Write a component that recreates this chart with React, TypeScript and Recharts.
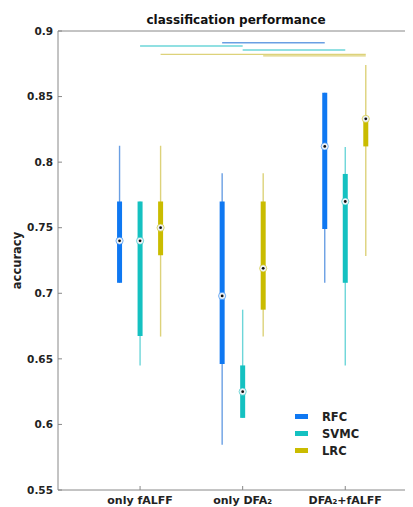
import { ComposedChart, ErrorBar, Legend, ReferenceLine, Scatter, XAxis, YAxis } from "recharts";

const FONT = "'DejaVu Sans', 'Liberation Sans', sans-serif";

const categories = ["only fALFF", "only DFA₂", "DFA₂+fALFF"];
const yTicks = [0.55, 0.6, 0.65, 0.7, 0.75, 0.8, 0.85, 0.9];

// five-number summaries per category (whisker low, q1, median, q3, whisker high)
const rfcLow = [0.708, 0.5845, 0.708];
const rfcQ1 = [0.708, 0.646, 0.749];
const rfcMedian = [0.74, 0.698, 0.812];
const rfcQ3 = [0.77, 0.77, 0.853];
const rfcHigh = [0.8125, 0.7915, 0.853];

const svmcLow = [0.645, 0.605, 0.645];
const svmcQ1 = [0.6675, 0.605, 0.708];
const svmcMedian = [0.74, 0.625, 0.77];
const svmcQ3 = [0.77, 0.645, 0.791];
const svmcHigh = [0.77, 0.6875, 0.8115];

const lrcLow = [0.667, 0.667, 0.7285];
const lrcQ1 = [0.729, 0.6875, 0.812];
const lrcMedian = [0.75, 0.719, 0.833];
const lrcQ3 = [0.77, 0.77, 0.833];
const lrcHigh = [0.8125, 0.7915, 0.874];

// significance brackets: which classifier, from category, to category, height
const sigSeries = ["RFC", "SVMC", "SVMC", "LRC", "LRC"];
const sigFrom = [1, 0, 1, 0, 1];
const sigTo = [2, 1, 2, 2, 2];
const sigY = [0.891, 0.8886, 0.8855, 0.8822, 0.881];

const series = [
  { name: "RFC", color: "#0f78f2", light: "#6a9fe3", offset: -0.2, low: rfcLow, q1: rfcQ1, med: rfcMedian, q3: rfcQ3, high: rfcHigh },
  { name: "SVMC", color: "#14c1c1", light: "#6dd6d9", offset: 0, low: svmcLow, q1: svmcQ1, med: svmcMedian, q3: svmcQ3, high: svmcHigh },
  { name: "LRC", color: "#cabc00", light: "#ddd27a", offset: 0.2, low: lrcLow, q1: lrcQ1, med: lrcMedian, q3: lrcQ3, high: lrcHigh },
];

const rowsFor = (s: (typeof series)[number]) =>
  categories.map((_, i) => ({
    x: i + 1 + s.offset,
    y: s.med[i],
    whisker: [s.med[i] - s.low[i], s.high[i] - s.med[i]],
    box: [s.med[i] - s.q1[i], s.q3[i] - s.med[i]],
  }));

const tickStyle = { fontFamily: FONT, fontWeight: "bold", fontSize: 10.5, fill: "#222" };

function CategoryTick({ x, y, payload }: any) {
  return (
    <text x={x} y={y} dy="0.71em" textAnchor="middle" fontFamily={FONT} fontWeight="bold" fontSize={11} fill="#222">
      {categories[payload.value - 1]}
    </text>
  );
}

function AccuracyLabel({ viewBox }: any) {
  const cy = viewBox.y + viewBox.height / 2;
  return (
    <text
      transform={`translate(${viewBox.x + 9},${cy}) rotate(-90)`}
      textAnchor="middle"
      dominantBaseline="central"
      fontFamily={FONT}
      fontWeight="bold"
      fontSize={11.5}
      fill="#222"
    >
      accuracy
    </text>
  );
}

const makeMedian = (color: string) => (props: any) => {
  const { cx, cy } = props;
  if (cx == null || cy == null) return <g />;
  return (
    <g>
      <circle cx={cx} cy={cy} r={3.6} fill="#eef2f6" stroke={color} strokeOpacity={0.55} strokeWidth={1} />
      <circle cx={cx} cy={cy} r={1.4} fill="#111" />
    </g>
  );
};

function LegendBox() {
  return (
    <div style={{ fontFamily: FONT, fontWeight: "bold", fontSize: 11.5, color: "#222" }}>
      {series.map((s) => (
        <div key={s.name} style={{ display: "flex", alignItems: "center", height: 17 }}>
          <span style={{ display: "inline-block", width: 13, height: 5, background: s.color, marginRight: 14 }} />
          {s.name}
        </div>
      ))}
    </div>
  );
}

export default function App() {
  const colorOf = (name: string) => series.find((s) => s.name === name)!.light;
  const offsetOf = (name: string) => series.find((s) => s.name === name)!.offset;
  return (
    <div style={{ width: 405, height: 499, overflow: "hidden" }}>
      <ComposedChart width={410} height={499} margin={{ top: 0, right: 0, bottom: 0, left: 0 }}>
        <XAxis
          xAxisId="bottom"
          type="number"
          dataKey="x"
          domain={[0.2, 3.67]}
          ticks={[1, 2, 3]}
          allowDataOverflow
          height={17}
          stroke="#888"
          tickSize={-4}
          tickMargin={10}
          tick={<CategoryTick />}
        />
        <XAxis
          xAxisId="top"
          orientation="top"
          type="number"
          domain={[0.2, 3.67]}
          ticks={[1, 2, 3]}
          allowDataOverflow
          height={23}
          stroke="#888"
          tickSize={-4}
          tick={false}
          label={{
            value: "classification performance",
            position: "center",
            fontFamily: FONT,
            fontWeight: "bold",
            fontSize: 12,
            fill: "#111",
          }}
        />
        <YAxis
          yAxisId="left"
          type="number"
          dataKey="y"
          domain={[0.55, 0.9]}
          ticks={yTicks}
          allowDataOverflow
          width={50}
          stroke="#888"
          tickSize={-4}
          tickMargin={9}
          tick={tickStyle}
          label={<AccuracyLabel />}
        />
        <YAxis
          yAxisId="right"
          orientation="right"
          type="number"
          domain={[0.55, 0.9]}
          ticks={yTicks}
          allowDataOverflow
          width={4}
          stroke="#888"
          tickSize={-4}
          tick={false}
        />
        {sigSeries.map((name, i) => (
          <ReferenceLine
            key={`sig-${i}`}
            xAxisId="bottom"
            yAxisId="left"
            segment={[
              { x: sigFrom[i] + 1 + offsetOf(name), y: sigY[i] },
              { x: sigTo[i] + 1 + offsetOf(name), y: sigY[i] },
            ]}
            stroke={colorOf(name)}
            strokeWidth={1.4}
            ifOverflow="visible"
          />
        ))}
        {series.map((s) => (
          <Scatter
            key={s.name}
            name={s.name}
            data={rowsFor(s)}
            xAxisId="bottom"
            yAxisId="left"
            fill={s.color}
            legendType="rect"
            shape={makeMedian(s.color)}
            isAnimationActive={false}
          >
            <ErrorBar dataKey="whisker" direction="y" width={0} stroke={s.light} strokeWidth={1.4} isAnimationActive={false} />
            <ErrorBar dataKey="box" direction="y" width={0} stroke={s.color} strokeWidth={5} isAnimationActive={false} />
          </Scatter>
        ))}
        <Legend
          layout="vertical"
          align="center"
          verticalAlign="middle"
          content={<LegendBox />}
          wrapperStyle={{ left: 287, top: 400, width: 80 }}
        />
      </ComposedChart>
    </div>
  );
}
